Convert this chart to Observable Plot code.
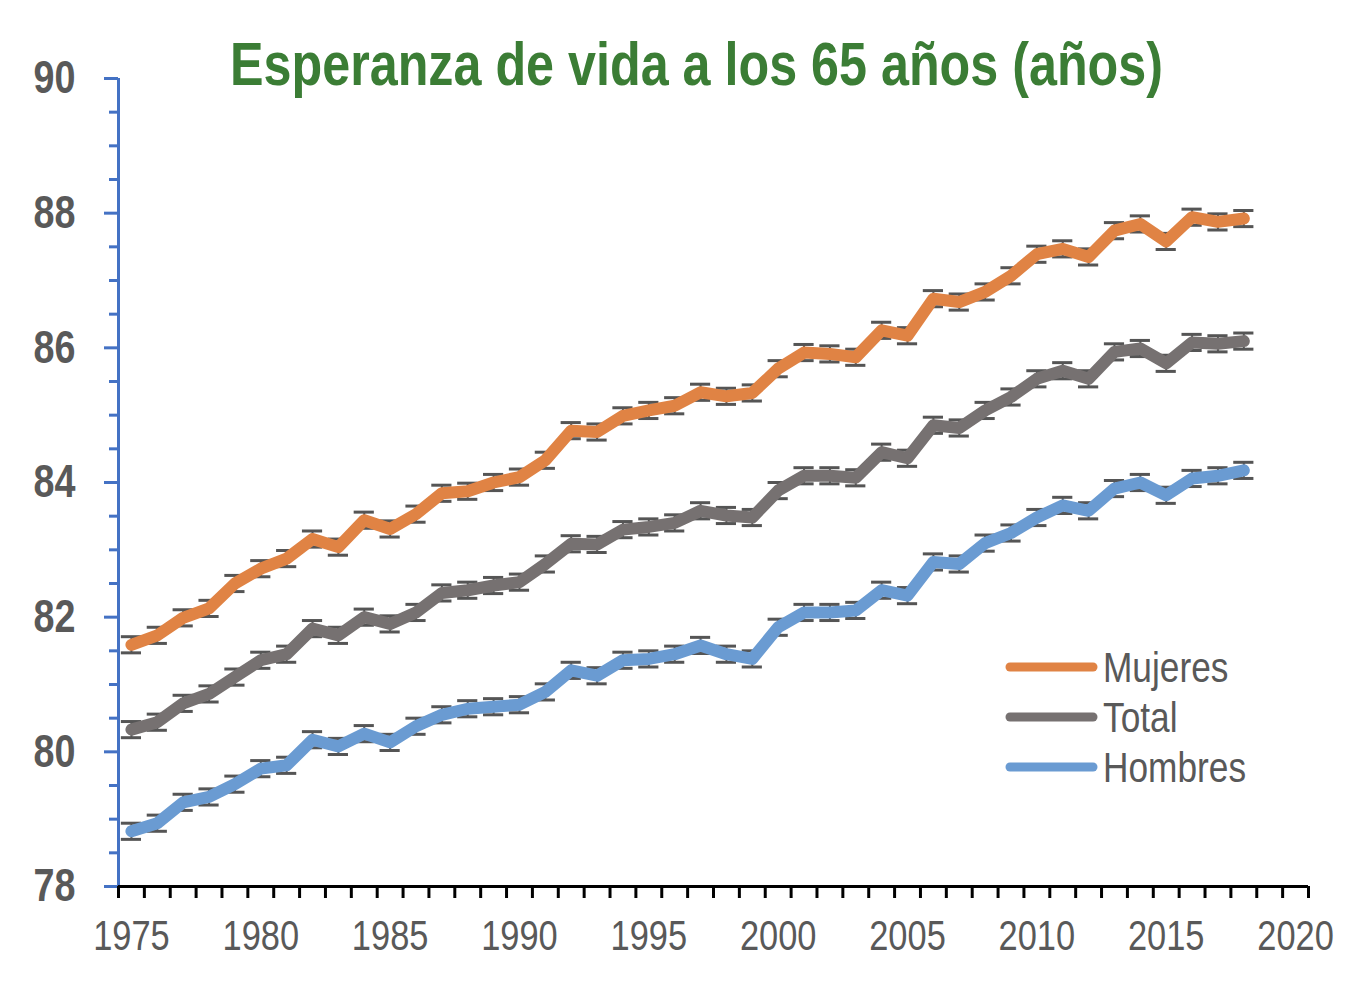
<!DOCTYPE html>
<html><head><meta charset="utf-8">
<script src="https://cdn.jsdelivr.net/npm/d3@7"></script>
<script src="https://cdn.jsdelivr.net/npm/@observablehq/plot@0.6"></script>
<style>body{margin:0;background:#fff}</style>
</head><body><div id="chart"></div>
<script>
const years = d3.range(1975, 2019);
const mujeres = [81.59, 81.73, 81.99, 82.13, 82.50, 82.72, 82.87, 83.16, 83.04, 83.44,
  83.31, 83.53, 83.84, 83.87, 84.00, 84.08, 84.33, 84.77, 84.75, 84.99,
  85.07, 85.14, 85.34, 85.28, 85.33, 85.69, 85.93, 85.91, 85.86, 86.26,
  86.18, 86.73, 86.68, 86.83, 87.07, 87.39, 87.47, 87.35, 87.74, 87.84,
  87.58, 87.94, 87.87, 87.92];
const total = [80.33, 80.44, 80.72, 80.86, 81.11, 81.36, 81.45, 81.83, 81.73, 82.00,
  81.90, 82.07, 82.36, 82.40, 82.47, 82.52, 82.79, 83.09, 83.08, 83.30,
  83.34, 83.40, 83.58, 83.51, 83.48, 83.88, 84.10, 84.10, 84.07, 84.45,
  84.36, 84.85, 84.81, 85.07, 85.27, 85.54, 85.66, 85.54, 85.94, 85.99,
  85.77, 86.08, 86.06, 86.10];
const hombres = [78.82, 78.94, 79.25, 79.33, 79.52, 79.75, 79.80, 80.18, 80.08, 80.27,
  80.14, 80.38, 80.55, 80.64, 80.67, 80.70, 80.89, 81.21, 81.13, 81.36,
  81.38, 81.45, 81.58, 81.45, 81.38, 81.85, 82.07, 82.07, 82.10, 82.40,
  82.32, 82.82, 82.79, 83.10, 83.25, 83.48, 83.66, 83.58, 83.91, 84.00,
  83.81, 84.06, 84.10, 84.18];
const errMujeres = 0.12, errTotal = 0.12, errHombres = 0.12;
const seriesNames = ["Mujeres", "Total", "Hombres"];
const seriesColors = ["#E08344", "#767171", "#6A9BD2"];
const yMajorTicks = [78, 80, 82, 84, 86, 88, 90];
const yMinorTicks = [78.5, 79, 79.5, 80.5, 81, 81.5, 82.5, 83, 83.5, 84.5, 85, 85.5, 86.5, 87, 87.5, 88.5, 89, 89.5];
const xLabelTicks = [1975, 1980, 1985, 1990, 1995, 2000, 2005, 2010, 2015, 2020];
const xBoundaryTicks = d3.range(1974.5, 2021, 1);
const titleText = "Esperanza de vida a los 65 años (años)";

const seriesValues = [mujeres, total, hombres];
const seriesErr = [errMujeres, errTotal, errHombres];
const rows = seriesNames.flatMap((s, i) => years.map((yr, j) => ({series: s, year: yr, value: seriesValues[i][j], err: seriesErr[i]})));

function hasFont(name) {
  const c = document.createElement("canvas").getContext("2d");
  const t = "Hombres 1975 años";
  c.font = "100px monospace";
  const w0 = c.measureText(t).width;
  c.font = `100px "${name}", monospace`;
  return Math.abs(c.measureText(t).width - w0) > 0.5;
}
const narrow = hasFont("Liberation Sans Narrow");
const fontFamily = narrow ? '"Liberation Sans Narrow", "Arial Narrow", sans-serif' : '"Liberation Sans", Arial, sans-serif';
const squeeze = narrow ? 1 : 0.82;

const blue = "#4472C4", textGray = "#595959";

const plot = Plot.plot({
  width: 1348, height: 992,
  marginLeft: 118, marginRight: 40, marginTop: 78, marginBottom: 106,
  style: {fontFamily, background: "#fff", overflow: "visible"},
  x: {domain: [1974.5, 2020.5]},
  y: {domain: [78, 90]},
  color: {domain: seriesNames, range: seriesColors},
  marks: [
    Plot.axisY(yMinorTicks, {tickSize: 9, text: null, stroke: blue, strokeWidth: 3, label: null}),
    Plot.axisY(yMajorTicks, {tickSize: 14, tickPadding: 29, stroke: blue, strokeWidth: 3, fill: textGray, fontSize: 46, fontWeight: "bold", label: null, tickFormat: d => String(d)}),
    Plot.axisX(xBoundaryTicks, {tickSize: 12, text: null, stroke: "#000", strokeWidth: 3, label: null}),
    Plot.axisX(xLabelTicks, {tickSize: 0, tickPadding: 34, fill: textGray, fontSize: 42, label: null, tickFormat: d => String(d)}),
    Plot.ruleX([1974.5], {stroke: blue, strokeWidth: 3}),
    Plot.ruleY([78], {x1: 1974.5, x2: 2020.5, stroke: "#000", strokeWidth: 3}),
    Plot.ruleX(rows, {x: "year", y1: d => d.value - d.err, y2: d => d.value + d.err, stroke: "#555", strokeWidth: 2}),
    Plot.ruleY(rows, {y: d => d.value + d.err, x1: d => d.year - 0.39, x2: d => d.year + 0.39, stroke: "#555", strokeWidth: 3}),
    Plot.ruleY(rows, {y: d => d.value - d.err, x1: d => d.year - 0.39, x2: d => d.year + 0.39, stroke: "#555", strokeWidth: 3}),
    Plot.line(rows, {x: "year", y: "value", z: "series", stroke: "series", strokeWidth: 12, strokeLinecap: "round", strokeLinejoin: "round"})
  ]
});

const svg = d3.select(plot);
if (squeeze !== 1) {
  svg.selectAll("text").each(function() {
    const t = this.getAttribute("transform") || "";
    this.setAttribute("transform", t + ` scale(${squeeze},1)`);
  });
}

// Title
svg.append("text")
  .attr("x", 230).attr("y", 85)
  .attr("text-anchor", "start")
  .attr("font-family", fontFamily).attr("font-weight", "bold").attr("font-size", 62)
  .attr("fill", "#3B7D35")
  .attr("textLength", 933).attr("lengthAdjust", "spacingAndGlyphs")
  .text(titleText);

// Legend
const lg = svg.append("g").attr("text-anchor", "start");
seriesNames.forEach((name, i) => {
  const ly = 667 + 50 * i;
  lg.append("line").attr("x1", 1010).attr("x2", 1093).attr("y1", ly).attr("y2", ly)
    .attr("stroke", seriesColors[i]).attr("stroke-width", 9).attr("stroke-linecap", "round");
  lg.append("text").attr("transform", `translate(1103,${ly + 15}) scale(${squeeze},1)`)
    .attr("text-anchor", "start")
    .attr("font-family", fontFamily).attr("font-size", 43).attr("fill", textGray)
    .text(name);
});

document.getElementById("chart").appendChild(plot);
</script>
</body></html>
